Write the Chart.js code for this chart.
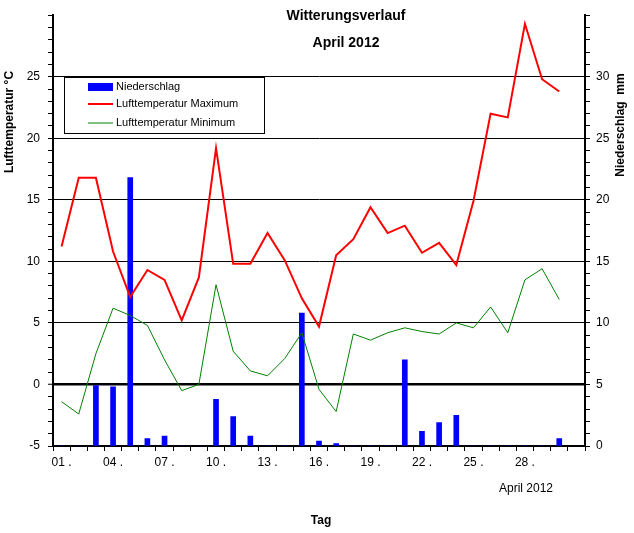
<!DOCTYPE html>
<html>
<head>
<meta charset="utf-8">
<script src="https://cdn.jsdelivr.net/npm/chart.js@4/dist/chart.umd.min.js"></script>
<style>
  body { margin: 0; background: #fff; }
  #wrap { width: 634px; height: 533px; }
</style>
</head>
<body>
<div id="wrap"><canvas id="wetterChart" width="634" height="533"></canvas></div>
<script>
// Tage im April 2012
const days = [1, 2, 3, 4, 5, 6, 7, 8, 9, 10, 11, 12, 13, 14, 15,
              16, 17, 18, 19, 20, 21, 22, 23, 24, 25, 26, 27, 28, 29, 30];
// Tagesmaximum Lufttemperatur (°C)
const tempMax = [11.2, 16.8, 16.8, 10.8, 7.1, 9.3, 8.5, 5.2, 8.7, 19.2,
                 9.8, 9.8, 12.3, 10.1, 7.0, 4.7, 10.5, 11.8, 14.4, 12.3,
                 12.9, 10.7, 11.5, 9.7, 14.9, 22.0, 21.7, 29.3, 24.8, 23.8];
// Tagesminimum Lufttemperatur (°C)
const tempMin = [-1.4, -2.4, 2.5, 6.2, 5.6, 4.8, 2.0, -0.5, 0.0, 8.1,
                 2.7, 1.1, 0.7, 2.1, 4.2, -0.4, -2.2, 4.1, 3.6, 4.2,
                 4.6, 4.3, 4.1, 5.0, 4.6, 6.3, 4.2, 8.5, 9.4, 6.9];
// Niederschlag (mm)
const niederschlag = [0, 0, 4.9, 4.8, 21.8, 0.6, 0.8, 0, 0, 3.8,
                      2.4, 0.8, 0, 0, 10.8, 0.4, 0.2, 0, 0, 0,
                      7.0, 1.2, 1.9, 2.5, 0, 0, 0, 0, 0, 0.6];
// beschriftete Tage auf der x-Achse
const labelDays = [1, 4, 7, 10, 13, 16, 19, 22, 25, 28];

const FONT = "'Liberation Sans', Arial, sans-serif";
Chart.defaults.font.family = FONT;
Chart.defaults.font.size = 12;
Chart.defaults.color = '#000';

// Titel, Achsentitel und Legende direkt auf den Canvas zeichnen
const textPlugin = {
    id: 'textPlugin',
    afterDraw(chart) {
        const ctx = chart.ctx;
        ctx.save();
        ctx.fillStyle = '#000';
        ctx.textAlign = 'center';
        ctx.textBaseline = 'middle';

        ctx.font = 'bold 14px ' + FONT;
        ctx.fillText('Witterungsverlauf', 346, 16);
        ctx.fillText('April 2012', 346, 43);

        ctx.font = '12px ' + FONT;
        ctx.fillText('April 2012', 526, 489);
        ctx.font = 'bold 12px ' + FONT;
        ctx.fillText('Tag', 321, 521);

        ctx.save();
        ctx.translate(10, 122);
        ctx.rotate(-Math.PI / 2);
        ctx.fillText('Lufttemperatur °C', 0, 0);
        ctx.restore();

        ctx.save();
        ctx.translate(621, 125);
        ctx.rotate(-Math.PI / 2);
        ctx.fillText('Niederschlag  mm', 0, 0);
        ctx.restore();

        // Legende
        ctx.fillStyle = '#fff';
        ctx.fillRect(64.5, 77.5, 200, 56);
        ctx.strokeStyle = '#000';
        ctx.lineWidth = 1;
        ctx.strokeRect(64.5, 77.5, 200, 56);

        const ds = chart.data.datasets;
        const rows = [87, 104, 123];
        ctx.textAlign = 'left';
        ctx.font = '11px ' + FONT;
        ds.forEach((d, i) => {
            const y = rows[i];
            if (d.type === 'bar') {
                ctx.fillStyle = d.backgroundColor;
                ctx.fillRect(88, y - 4, 25, 8);
            } else {
                ctx.strokeStyle = d.borderColor;
                ctx.lineWidth = d.borderWidth;
                ctx.beginPath();
                ctx.moveTo(88, y);
                ctx.lineTo(113, y);
                ctx.stroke();
            }
            ctx.fillStyle = '#000';
            ctx.fillText(d.label, 116, y);
        });
        ctx.restore();
    }
};

const ctx = document.getElementById('wetterChart').getContext('2d');
new Chart(ctx, {
    type: 'bar',
    data: {
        datasets: [
            {
                type: 'bar',
                label: 'Niederschlag',
                data: days.map((d, i) => ({ x: d, y: niederschlag[i] })),
                backgroundColor: '#0000ff',
                borderWidth: 0,
                barThickness: 5,
                yAxisID: 'yP',
                order: 3
            },
            {
                type: 'line',
                label: 'Lufttemperatur Maximum',
                data: days.map((d, i) => ({ x: d, y: tempMax[i] })),
                borderColor: '#ff0000',
                borderWidth: 2,
                pointRadius: 0,
                tension: 0,
                yAxisID: 'yT',
                order: 1
            },
            {
                type: 'line',
                label: 'Lufttemperatur Minimum',
                data: days.map((d, i) => ({ x: d, y: tempMin[i] })),
                borderColor: '#008000',
                borderWidth: 1,
                pointRadius: 0,
                tension: 0,
                yAxisID: 'yT',
                order: 2
            }
        ]
    },
    options: {
        responsive: false,
        animation: false,
        layout: { padding: { top: 15, left: 0, right: 0, bottom: 0 } },
        plugins: {
            legend: { display: false },
            tooltip: { enabled: false }
        },
        scales: {
            x: {
                type: 'linear',
                offset: false,
                min: 0.5,
                max: 31.5,
                afterFit: s => { s.height = 87; },
                afterBuildTicks: s => {
                    const t = [];
                    for (let v = 0.5; v <= 31.5; v += 1) t.push(v);
                    labelDays.forEach(d => t.push(d));
                    t.sort((a, b) => a - b);
                    s.ticks = t.map(v => ({ value: v }));
                },
                ticks: {
                    autoSkip: false,
                    maxRotation: 0,
                    padding: 4,
                    callback: v => labelDays.includes(v) ? String(v).padStart(2, '0') + ' .' : ''
                },
                grid: {
                    offset: false,
                    drawOnChartArea: false,
                    tickLength: 5,
                    tickWidth: 1,
                    tickColor: c => (c.tick && c.tick.value % 1 === 0.5) ? '#000' : 'rgba(0,0,0,0)'
                },
                border: { color: '#000', width: 2 }
            },
            yT: {
                type: 'linear',
                position: 'left',
                min: -5,
                max: 30,
                afterFit: s => { s.width = 53; },
                ticks: {
                    stepSize: 1,
                    autoSkip: false,
                    padding: 8,
                    callback: v => (v % 5 === 0 && v <= 25) ? String(v) : ''
                },
                grid: {
                    color: c => {
                        const v = c.tick ? c.tick.value : null;
                        return (v !== null && v % 5 === 0 && v >= 0 && v <= 25) ? '#000' : 'rgba(0,0,0,0)';
                    },
                    lineWidth: c => (c.tick && c.tick.value === 0) ? 2.5 : 1,
                    tickColor: '#000',
                    tickWidth: 1,
                    tickLength: 5
                },
                border: { color: '#000', width: 2 }
            },
            yP: {
                type: 'linear',
                position: 'right',
                min: 0,
                max: 35,
                afterFit: s => { s.width = 49; },
                ticks: {
                    stepSize: 1,
                    autoSkip: false,
                    padding: 6,
                    callback: v => (v % 5 === 0 && v <= 30) ? String(v) : ''
                },
                grid: {
                    drawOnChartArea: false,
                    tickColor: '#000',
                    tickWidth: 1,
                    tickLength: 5
                },
                border: { color: '#000', width: 2 }
            }
        }
    },
    plugins: [textPlugin]
});
</script>
</body>
</html>
